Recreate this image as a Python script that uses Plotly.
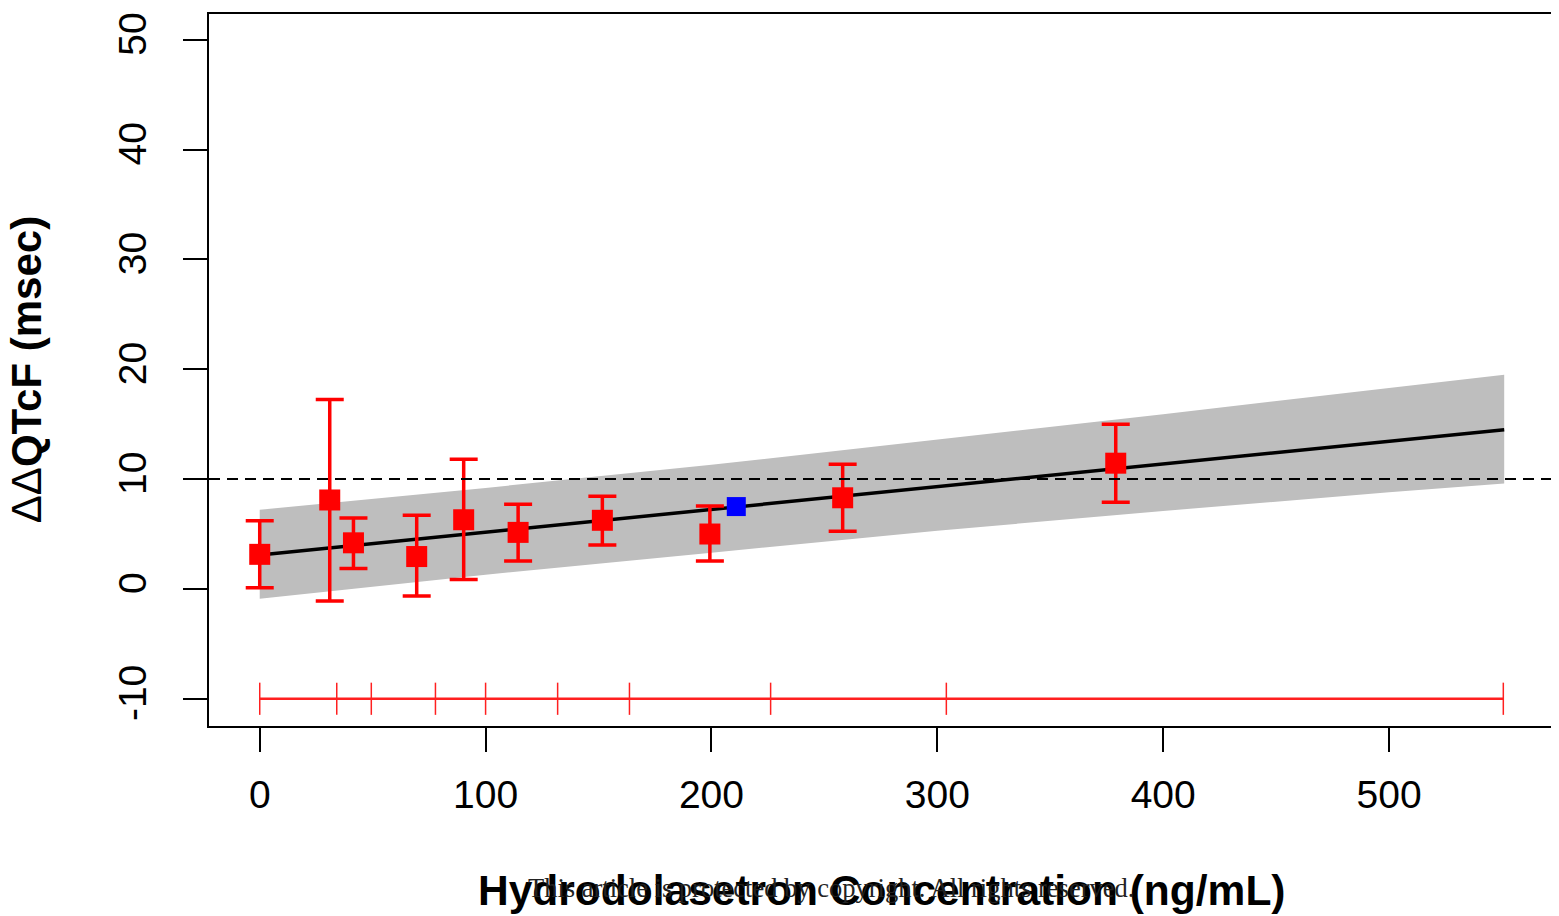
import plotly.graph_objects as go

# Observed binned data (concentration bin means, mean ΔΔQTcF and 90% CI)
conc = [0, 31.0, 41.5, 69.5, 90.3, 114.4, 151.7, 199.3, 258.1, 379.0]
ddqtcf = [3.15, 8.1, 4.2, 2.95, 6.3, 5.15, 6.25, 5.0, 8.3, 11.45]
ci_low = [0.1, -1.1, 1.85, -0.65, 0.85, 2.55, 4.0, 2.55, 5.25, 7.9]
ci_high = [6.2, 17.25, 6.45, 6.7, 11.8, 7.7, 8.45, 7.55, 11.35, 15.0]

# Predicted value at geometric mean Cmax (blue)
cmax_conc = [211.0]
cmax_pred = [7.5]

# Model prediction line and confidence band
model_conc = [0, 551]
model_pred = [3.1, 14.5]
band_conc = [0, 100, 200, 300, 400, 500, 551]
band_upper = [7.2, 9.2, 11.3, 13.6, 15.9, 18.3, 19.5]
band_lower = [-0.9, 1.3, 3.3, 5.3, 7.1, 8.8, 9.6]

# Concentration deciles
deciles = [0, 34.1, 49.4, 77.8, 100.0, 131.9, 163.7, 226.2, 304.0, 550.6]
decile_y = [-10] * len(deciles)

threshold = 10

x_ticks = [0, 100, 200, 300, 400, 500]
y_ticks = [-10, 0, 10, 20, 30, 40, 50]

fig = go.Figure()

# confidence band
fig.add_trace(go.Scatter(
    x=band_conc + band_conc[::-1],
    y=band_upper + band_lower[::-1],
    fill="toself", fillcolor="#BEBEBE", line=dict(width=0),
    mode="lines", hoverinfo="skip", showlegend=False))

# model line
fig.add_trace(go.Scatter(
    x=model_conc, y=model_pred, mode="lines",
    line=dict(color="black", width=3.5), showlegend=False))

# observed points with error bars
fig.add_trace(go.Scatter(
    x=conc, y=ddqtcf, mode="markers",
    marker=dict(symbol="square", color="#FF0000", size=21),
    error_y=dict(type="data", symmetric=False,
                 array=[h - m for h, m in zip(ci_high, ddqtcf)],
                 arrayminus=[m - l for m, l in zip(ddqtcf, ci_low)],
                 color="#FF0000", thickness=3.5, width=14),
    showlegend=False))

# blue point
fig.add_trace(go.Scatter(
    x=cmax_conc, y=cmax_pred, mode="markers",
    marker=dict(symbol="square", color="#0000FF", size=19),
    showlegend=False))

# decile bar
fig.add_trace(go.Scatter(
    x=deciles, y=decile_y, mode="lines+markers",
    line=dict(color="#FF2020", width=2.5),
    marker=dict(symbol="line-ns-open", size=23,
                line=dict(color="#FF2020", width=1.5)),
    showlegend=False))

# threshold dashed line
fig.add_shape(type="line", xref="paper", yref="y", x0=0, x1=1,
              y0=threshold, y1=threshold,
              line=dict(color="black", width=2, dash="11px,7px"))

tick_font = dict(family="Liberation Sans, Arial", size=39, color="black")

fig.update_xaxes(
    range=[-22.46, 572.6], tickvals=x_ticks, ticktext=[str(v) for v in x_ticks],
    showgrid=False, zeroline=False, showline=True, mirror=True,
    linecolor="black", linewidth=2, ticks="outside", ticklen=24,
    tickwidth=2, tickcolor="black", tickfont=tick_font, ticklabelstandoff=9)
fig.update_yaxes(
    range=[-12.48, 52.35], tickvals=y_ticks, ticktext=[str(v) for v in y_ticks],
    showgrid=False, zeroline=False, showline=True, mirror=True,
    linecolor="black", linewidth=2, ticks="outside", ticklen=24,
    tickwidth=2, tickcolor="black", tickfont=tick_font, tickangle=-90,
    ticklabelstandoff=21)

fig.add_annotation(
    text="<b>Hydrodolasetron Concentration (ng/mL)</b>",
    xref="paper", yref="paper", x=0.5004, y=-0.2309,
    xanchor="center", yanchor="middle", showarrow=False,
    font=dict(family="Liberation Sans, Arial", size=42.5, color="black"))
fig.add_annotation(
    text="ΔΔ<b>QTcF (msec)</b>",
    xref="paper", yref="paper", x=-0.136, y=0.5,
    xanchor="center", yanchor="middle", showarrow=False, textangle=-90,
    font=dict(family="Liberation Sans, Arial", size=42, color="black"))
fig.add_annotation(
    text="This article is protected by copyright. All rights reserved.",
    xref="paper", yref="paper", x=0.4625, y=-0.2281,
    xanchor="center", yanchor="middle", showarrow=False,
    font=dict(family="Liberation Serif, Times New Roman", size=26.5, color="#222222"))

# page body has an 8px default margin; compensate so the plot box sits at 209..1555 x 12..718
fig.update_layout(
    width=1551, height=908,
    margin=dict(l=201, r=4, t=4, b=190),
    paper_bgcolor="white", plot_bgcolor="white",
    showlegend=False)

fig.write_html("out.html")
